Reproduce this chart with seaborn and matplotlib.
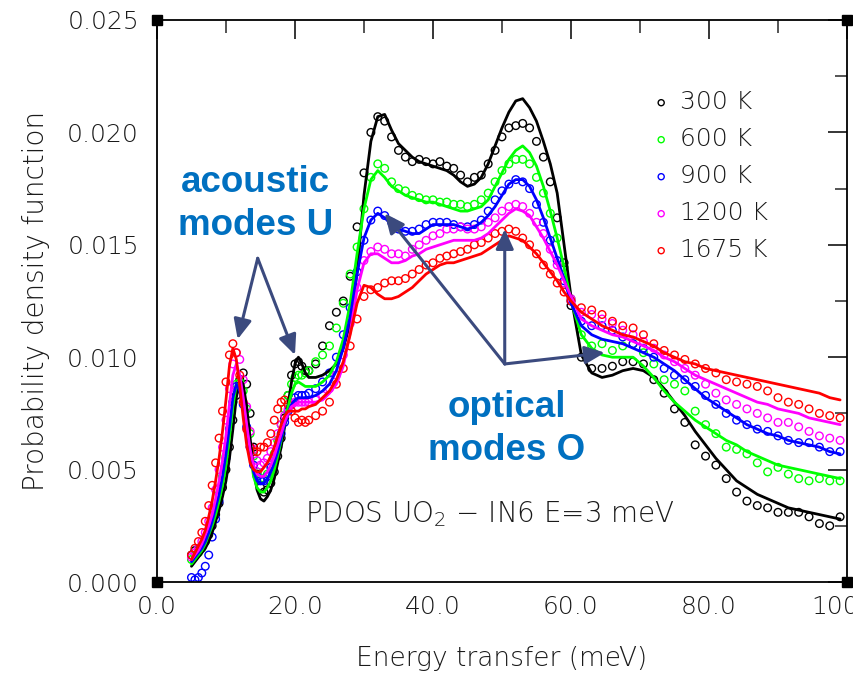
import numpy as np
import pandas as pd
import matplotlib
matplotlib.use("Agg")
import matplotlib.pyplot as plt
import seaborn as sns

# ---------------- data ----------------
energy = [5.0, 5.5, 6.0, 6.5, 7.0, 7.5, 8.0, 8.5, 9.0, 9.5, 10.0, 10.5, 11.0, 11.5,
          12.0, 12.5, 13.0, 13.5, 14.0, 14.5, 15.0, 15.5, 16.0, 16.5, 17.0, 17.5,
          18.0, 18.5, 19.0, 19.5, 20.0, 20.5, 21.0, 21.5, 22.0,
          23, 24, 25, 26, 27, 28, 29, 30, 31, 32, 33, 34, 35, 36, 37, 38, 39, 40,
          41, 42, 43, 44, 45, 46, 47, 48, 49, 50, 51, 52, 53, 54, 55, 56, 57, 58, 59, 60,
          61.5, 63, 64.5, 66, 67.5, 69, 70.5, 72, 73.5, 75, 76.5, 78, 79.5, 81, 82.5,
          84, 85.5, 87, 88.5, 90, 91.5, 93, 94.5, 96, 97.5, 99]

temperatures = ["300 K", "600 K", "900 K", "1200 K", "1675 K"]
colors = ["#000000", "#00ff00", "#0000ff", "#ff00ff", "#ff0000"]

# fitted curves (lines)
line_300 = [0.0007, 0.0009, 0.0011, 0.0013, 0.0015, 0.0018, 0.0022, 0.0027, 0.0032, 0.0038,
            0.0045, 0.0055, 0.0068, 0.0082, 0.0090, 0.0088, 0.0078, 0.0064, 0.0050, 0.0041,
            0.0037, 0.0036, 0.0038, 0.0041, 0.0046, 0.0053, 0.0060, 0.0069, 0.0079, 0.0089,
            0.0097, 0.0100, 0.0097, 0.0093, 0.0091,
            0.0091, 0.0092, 0.0094, 0.0097, 0.0104, 0.0115, 0.0138, 0.0172, 0.0196, 0.0207,
            0.0208, 0.0201, 0.0195, 0.0192, 0.0189, 0.0187, 0.0186, 0.0185, 0.0184, 0.0183,
            0.0181, 0.0178, 0.0176, 0.0177, 0.0180, 0.0186, 0.0194, 0.0202, 0.0209, 0.0214,
            0.0215, 0.0211, 0.0205, 0.0196, 0.0186, 0.0173, 0.0150, 0.0127,
            0.0101, 0.0093, 0.0091, 0.0092, 0.0094, 0.0095, 0.0094, 0.0091, 0.0086, 0.0080,
            0.0074, 0.0067, 0.0061, 0.0055, 0.0050, 0.0045, 0.0042, 0.0039, 0.0037, 0.0035,
            0.0033, 0.0032, 0.0031, 0.0030, 0.0029, 0.0028]
line_600 = [0.0008, 0.0010, 0.0012, 0.0014, 0.0017, 0.0021, 0.0025, 0.0030, 0.0036, 0.0043,
            0.0052, 0.0064, 0.0078, 0.0088, 0.0087, 0.0080, 0.0069, 0.0057, 0.0047, 0.0042,
            0.0040, 0.0040, 0.0042, 0.0045, 0.0050, 0.0056, 0.0063, 0.0071, 0.0078, 0.0084,
            0.0088, 0.0089, 0.0088, 0.0087, 0.0087,
            0.0087, 0.0089, 0.0092, 0.0098, 0.0108, 0.0124, 0.0146, 0.0166, 0.0179, 0.0183,
            0.0180, 0.0176, 0.0174, 0.0172, 0.0171, 0.0170, 0.0169, 0.0169, 0.0168, 0.0167,
            0.0166, 0.0165, 0.0165, 0.0166, 0.0167, 0.0170, 0.0176, 0.0182, 0.0188, 0.0192,
            0.0194, 0.0191, 0.0185, 0.0176, 0.0165, 0.0153, 0.0140, 0.0125,
            0.0110, 0.0104, 0.0101, 0.0100, 0.0100, 0.0100, 0.0096, 0.0091, 0.0085, 0.0080,
            0.0076, 0.0072, 0.0069, 0.0066, 0.0063, 0.0061, 0.0058, 0.0056, 0.0054, 0.0052,
            0.0051, 0.0050, 0.0049, 0.0048, 0.0047, 0.0046]
line_900 = [0.0009, 0.0011, 0.0013, 0.0015, 0.0018, 0.0022, 0.0027, 0.0033, 0.0039, 0.0047,
            0.0057, 0.0069, 0.0082, 0.0088, 0.0085, 0.0077, 0.0067, 0.0057, 0.0049, 0.0045,
            0.0044, 0.0044, 0.0046, 0.0049, 0.0053, 0.0058, 0.0064, 0.0070, 0.0075, 0.0079,
            0.0081, 0.0082, 0.0082, 0.0082, 0.0082,
            0.0083, 0.0085, 0.0088, 0.0094, 0.0104, 0.0118, 0.0137, 0.0153, 0.0161, 0.0164,
            0.0162, 0.0159, 0.0157, 0.0156, 0.0155, 0.0155, 0.0157, 0.0159, 0.0159, 0.0159,
            0.0159, 0.0158, 0.0157, 0.0158, 0.0160, 0.0163, 0.0167, 0.0172, 0.0177, 0.0179,
            0.0179, 0.0176, 0.0170, 0.0162, 0.0153, 0.0144, 0.0135, 0.0124,
            0.0114, 0.0110, 0.0108, 0.0107, 0.0106, 0.0104, 0.0102, 0.0100, 0.0097, 0.0094,
            0.0090, 0.0086, 0.0082, 0.0079, 0.0076, 0.0073, 0.0070, 0.0068, 0.0066, 0.0065,
            0.0063, 0.0062, 0.0061, 0.0060, 0.0058, 0.0057]
line_1200 = [0.0010, 0.0012, 0.0014, 0.0017, 0.0021, 0.0025, 0.0030, 0.0037, 0.0045, 0.0054,
             0.0065, 0.0079, 0.0092, 0.0097, 0.0092, 0.0082, 0.0070, 0.0059, 0.0052, 0.0048,
             0.0047, 0.0047, 0.0049, 0.0052, 0.0056, 0.0061, 0.0066, 0.0071, 0.0075, 0.0078,
             0.0079, 0.0080, 0.0080, 0.0080, 0.0080,
             0.0080, 0.0081, 0.0084, 0.0088, 0.0096, 0.0111, 0.0130, 0.0142, 0.0146, 0.0146,
             0.0144, 0.0142, 0.0142, 0.0143, 0.0145, 0.0146, 0.0148, 0.0149, 0.0150, 0.0151,
             0.0152, 0.0152, 0.0152, 0.0152, 0.0153, 0.0155, 0.0158, 0.0161, 0.0164, 0.0166,
             0.0165, 0.0163, 0.0158, 0.0153, 0.0147, 0.0141, 0.0134, 0.0127,
             0.0117, 0.0114, 0.0112, 0.0110, 0.0109, 0.0107, 0.0105, 0.0103, 0.0100, 0.0098,
             0.0095, 0.0092, 0.0090, 0.0088, 0.0086, 0.0084, 0.0082, 0.0080, 0.0079, 0.0077,
             0.0076, 0.0075, 0.0073, 0.0072, 0.0071, 0.0070]
line_1675 = [0.0010, 0.0013, 0.0016, 0.0019, 0.0023, 0.0029, 0.0036, 0.0045, 0.0055, 0.0067,
             0.0081, 0.0096, 0.0104, 0.0099, 0.0087, 0.0073, 0.0061, 0.0053, 0.0050, 0.0049,
             0.0049, 0.0051, 0.0053, 0.0056, 0.0060, 0.0065, 0.0070, 0.0074, 0.0076, 0.0076,
             0.0076, 0.0076, 0.0077, 0.0077, 0.0078,
             0.0079, 0.0082, 0.0085, 0.0090, 0.0098, 0.0110, 0.0124, 0.0132, 0.0131, 0.0128,
             0.0126, 0.0126, 0.0127, 0.0129, 0.0131, 0.0134, 0.0137, 0.0139, 0.0141, 0.0142,
             0.0142, 0.0143, 0.0144, 0.0145, 0.0146, 0.0148, 0.0150, 0.0152, 0.0154, 0.0153,
             0.0152, 0.0149, 0.0146, 0.0142, 0.0138, 0.0134, 0.0129, 0.0125,
             0.0120, 0.0117, 0.0114, 0.0112, 0.0110, 0.0109, 0.0107, 0.0105, 0.0102, 0.0100,
             0.0098, 0.0097, 0.0095, 0.0094, 0.0093, 0.0092, 0.0091, 0.0090, 0.0089, 0.0088,
             0.0087, 0.0086, 0.0085, 0.0084, 0.0082, 0.0081]

# measured points (circles)
pts_300 = [0.0012, 0.0014, 0.0015, 0.0016, 0.0018, 0.0021, 0.0025, 0.0030, 0.0035, 0.0042,
           0.0050, 0.0060, 0.0072, 0.0083, 0.0090, 0.0093, 0.0088, 0.0075, 0.0060, 0.0048,
           0.0042, 0.0040, 0.0041, 0.0044, 0.0049, 0.0056, 0.0064, 0.0073, 0.0083, 0.0092,
           0.0097, 0.0098, 0.0096, 0.0094, 0.0094,
           0.0097, 0.0105, 0.0114, 0.0120, 0.0125, 0.0136, 0.0158, 0.0182, 0.0200, 0.0207,
           0.0205, 0.0198, 0.0192, 0.0189, 0.0187, 0.0188, 0.0187, 0.0186, 0.0187, 0.0185,
           0.0184, 0.0181, 0.0178, 0.0180, 0.0181, 0.0186, 0.0192, 0.0198, 0.0202, 0.0203,
           0.0204, 0.0202, 0.0196, 0.0189, 0.0178, 0.0162, 0.0142, 0.0123,
           0.0100, 0.0095, 0.0095, 0.0096, 0.0098, 0.0098, 0.0097, 0.0090, 0.0084, 0.0077,
           0.0071, 0.0061, 0.0056, 0.0052, 0.0046, 0.0040, 0.0036, 0.0034, 0.0033, 0.0031,
           0.0031, 0.0031, 0.0029, 0.0026, 0.0025, 0.0029]
pts_600 = [0.0010, 0.0012, 0.0013, 0.0015, 0.0018, 0.0022, 0.0027, 0.0033, 0.0039, 0.0047,
           0.0056, 0.0068, 0.0080, 0.0088, 0.0089, 0.0085, 0.0077, 0.0066, 0.0056, 0.0049,
           0.0046, 0.0046, 0.0048, 0.0052, 0.0057, 0.0063, 0.0070, 0.0077, 0.0083, 0.0088,
           0.0091, 0.0092, 0.0092, 0.0093, 0.0094,
           0.0098, 0.0101, 0.0105, 0.0113, 0.0124, 0.0137, 0.0149, 0.0166, 0.0180, 0.0186,
           0.0184, 0.0178, 0.0175, 0.0174, 0.0172, 0.0171, 0.0170, 0.0170, 0.0169, 0.0169,
           0.0168, 0.0168, 0.0167, 0.0168, 0.0170, 0.0173, 0.0178, 0.0183, 0.0186, 0.0188,
           0.0188, 0.0186, 0.0180, 0.0173, 0.0164, 0.0153, 0.0140, 0.0126,
           0.0110, 0.0105, 0.0106, 0.0103, 0.0105, 0.0106, 0.0102, 0.0097, 0.0090, 0.0088,
           0.0085, 0.0076, 0.0070, 0.0066, 0.0060, 0.0059, 0.0057, 0.0053, 0.0049, 0.0051,
           0.0048, 0.0046, 0.0045, 0.0046, 0.0045, 0.0045]
pts_900 = [0.0002, 0.0001, 0.0002, 0.0004, 0.0007, 0.0012, 0.0020, 0.0028, 0.0036, 0.0045,
           0.0055, 0.0068, 0.0080, 0.0087, 0.0086, 0.0079, 0.0069, 0.0060, 0.0052, 0.0047,
           0.0045, 0.0045, 0.0047, 0.0051, 0.0055, 0.0060, 0.0066, 0.0071, 0.0076, 0.0079,
           0.0082, 0.0083, 0.0083, 0.0083, 0.0084,
           0.0086, 0.0089, 0.0093, 0.0100, 0.0110, 0.0122, 0.0138, 0.0152, 0.0161, 0.0165,
           0.0163, 0.0160, 0.0157, 0.0156, 0.0156, 0.0157, 0.0159, 0.0160, 0.0160, 0.0160,
           0.0159, 0.0158, 0.0158, 0.0159, 0.0161, 0.0165, 0.0170, 0.0174, 0.0177, 0.0179,
           0.0178, 0.0175, 0.0168, 0.0160, 0.0152, 0.0143, 0.0134, 0.0125,
           0.0116, 0.0114, 0.0114, 0.0112, 0.0109, 0.0106, 0.0104, 0.0100, 0.0095, 0.0092,
           0.0090, 0.0087, 0.0083, 0.0079, 0.0075, 0.0072, 0.0070, 0.0068, 0.0067, 0.0065,
           0.0063, 0.0062, 0.0062, 0.0060, 0.0058, 0.0058]
pts_1200 = [0.0011, 0.0013, 0.0015, 0.0018, 0.0022, 0.0027, 0.0033, 0.0041, 0.0050, 0.0060,
            0.0072, 0.0086, 0.0097, 0.0102, 0.0099, 0.0090, 0.0078, 0.0067, 0.0059, 0.0054,
            0.0052, 0.0053, 0.0055, 0.0058, 0.0062, 0.0066, 0.0070, 0.0074, 0.0077, 0.0079,
            0.0080, 0.0080, 0.0080, 0.0080, 0.0080,
            0.0081, 0.0083, 0.0086, 0.0092, 0.0101, 0.0115, 0.0131, 0.0143, 0.0147, 0.0149,
            0.0148, 0.0146, 0.0146, 0.0145, 0.0148, 0.0150, 0.0152, 0.0154, 0.0155, 0.0157,
            0.0157, 0.0158, 0.0157, 0.0157, 0.0158, 0.0160, 0.0162, 0.0165, 0.0167, 0.0168,
            0.0167, 0.0164, 0.0160, 0.0155, 0.0148, 0.0141, 0.0133, 0.0126,
            0.0120, 0.0119, 0.0117, 0.0115, 0.0112, 0.0110, 0.0107, 0.0104, 0.0101, 0.0098,
            0.0095, 0.0092, 0.0088, 0.0084, 0.0081, 0.0079, 0.0077, 0.0075, 0.0073, 0.0071,
            0.0071, 0.0069, 0.0067, 0.0065, 0.0064, 0.0063]
pts_1675 = [0.0012, 0.0015, 0.0018, 0.0022, 0.0027, 0.0034, 0.0043, 0.0053, 0.0064, 0.0076,
            0.0089, 0.0101, 0.0106, 0.0102, 0.0092, 0.0080, 0.0068, 0.0060, 0.0058, 0.0058,
            0.0060, 0.0060, 0.0062, 0.0066, 0.0072, 0.0077, 0.0080, 0.0081, 0.0079, 0.0076,
            0.0073, 0.0071, 0.0072, 0.0071, 0.0072,
            0.0074, 0.0076, 0.0080, 0.0088, 0.0095, 0.0105, 0.0117, 0.0127, 0.0130, 0.0131,
            0.0133, 0.0134, 0.0134, 0.0135, 0.0137, 0.0139, 0.0141, 0.0142, 0.0144, 0.0145,
            0.0146, 0.0147, 0.0148, 0.0150, 0.0151, 0.0153, 0.0155, 0.0156, 0.0157, 0.0156,
            0.0153, 0.0150, 0.0146, 0.0141, 0.0137, 0.0133, 0.0129, 0.0125,
            0.0122, 0.0121, 0.0119, 0.0116, 0.0114, 0.0113, 0.0110, 0.0106, 0.0103, 0.0101,
            0.0099, 0.0097, 0.0095, 0.0093, 0.0090, 0.0089, 0.0088, 0.0087, 0.0085, 0.0082,
            0.0080, 0.0079, 0.0077, 0.0075, 0.0074, 0.0073]

lines = [line_300, line_600, line_900, line_1200, line_1675]
points = [pts_300, pts_600, pts_900, pts_1200, pts_1675]

x_ticks = [0, 20, 40, 60, 80, 100]
x_tick_labels = ["0.0", "20.0", "40.0", "60.0", "80.0", "100.0"]
y_ticks = [0.000, 0.005, 0.010, 0.015, 0.020, 0.025]
y_tick_labels = ["0.000", "0.005", "0.010", "0.015", "0.020", "0.025"]

# ---------------- plot ----------------
sns.set_theme(style="white")
plt.rcParams["font.family"] = ["DejaVu Sans"]
plt.rcParams["mathtext.fontset"] = "custom"
plt.rcParams["mathtext.rm"] = "DejaVu Sans:light"
plt.rcParams["mathtext.it"] = "DejaVu Sans:light"
plt.rcParams["mathtext.default"] = "rm"
txt_col = "#1a1a1a"

fig = plt.figure(figsize=(8.54, 6.8), dpi=100)
ax = fig.add_axes([0.1838, 0.1441, 0.8080, 0.8265])

for temp, col, pts in zip(temperatures, colors, points):
    sns.scatterplot(x=energy, y=pts, ax=ax, marker="o", s=30,
                    facecolors="none", edgecolor=col, linewidth=1.0,
                    label=temp, zorder=2)

for temp, col, ln in zip(temperatures, colors, lines):
    sns.lineplot(x=energy, y=ln, ax=ax, color=col, linewidth=2.0,
                 legend=False, zorder=3)

ax.set_xlim(0, 100)
ax.set_ylim(0, 0.025)
ax.set_xticks(x_ticks)
ax.set_xticklabels(x_tick_labels)
ax.set_yticks(y_ticks)
ax.set_yticklabels(y_tick_labels)
ax.set_xticks([10, 30, 50, 70, 90], minor=True)
ax.set_yticks([0.0025, 0.0075, 0.0125, 0.0175, 0.0225], minor=True)
ax.tick_params(axis="both", which="major", direction="in", length=14, width=1.1,
               labelsize=18, colors="black", top=True, right=True)
ax.tick_params(axis="y", which="major", pad=13)
ax.tick_params(axis="x", which="major", pad=9)
ax.tick_params(axis="both", which="minor", direction="in", length=9, width=1.1,
               top=True, right=True)
for lab in ax.get_xticklabels() + ax.get_yticklabels():
    lab.set_color(txt_col)
    lab.set_fontweight("light")

for sp in ax.spines.values():
    sp.set_color("black")
    sp.set_linewidth(1.3)

# corner squares
ax.plot([0, 0, 1, 1], [0, 1, 0, 1], "s", color="black", markersize=7,
        transform=ax.transAxes, clip_on=False, zorder=6)

ax.set_xlabel("Energy transfer (meV)", fontsize=19, color=txt_col, labelpad=20,
              fontweight="light")
ax.set_ylabel("Probability density function", fontsize=20, color=txt_col, labelpad=12,
              fontweight="light")

leg = ax.legend(loc="upper left", bbox_to_anchor=(0.68, 0.915), frameon=False,
                fontsize=18, handletextpad=0.25, labelspacing=0.52,
                handlelength=1.0, markerscale=0.8)
for t in leg.get_texts():
    t.set_color(txt_col)
    t.set_fontweight("light")

ax.text(48.3, 0.0030, "PDOS UO$_2$ $-$ IN6 E=3 meV", fontsize=20, color=txt_col,
        ha="center", va="center", fontweight="light")

blue_txt = "#0070c0"
arrow_col = "#3b4a7e"
ax.text(14.3, 0.0168, "acoustic\nmodes U", fontsize=26.5, fontweight="bold",
        color=blue_txt, family="Liberation Sans", ha="center", va="center",
        linespacing=1.3)
ax.text(50.7, 0.0068, "optical\nmodes O", fontsize=26.5, fontweight="bold",
        color=blue_txt, family="Liberation Sans", ha="center", va="center",
        linespacing=1.3)

arrow_kw = dict(arrowstyle="-|>,head_length=1.0,head_width=0.45", color=arrow_col,
                lw=2.2, shrinkA=0, shrinkB=0)
for tip in [(11.7, 0.0108), (20.0, 0.0101)]:
    ax.annotate("", xy=tip, xytext=(14.6, 0.0144), arrowprops=arrow_kw, zorder=7)
for tip in [(33.0, 0.0164), (50.4, 0.0157), (64.9, 0.0102)]:
    ax.annotate("", xy=tip, xytext=(50.4, 0.0097), arrowprops=arrow_kw, zorder=7)

fig.savefig("out.png", dpi=100)
